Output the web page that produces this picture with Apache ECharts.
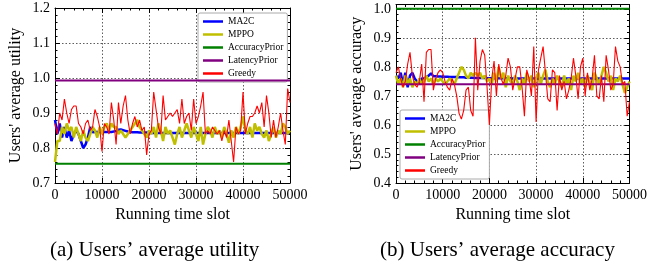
<!DOCTYPE html>
<html>
<head>
<meta charset="utf-8">
<title>Users' average utility / accuracy</title>
<script src="https://cdn.jsdelivr.net/npm/echarts@6/dist/echarts.min.js"></script>
<style>
  html, body { margin: 0; padding: 0; background: #fff; }
  #chart { width: 650px; height: 267px; }
</style>
</head>
<body>
<div id="chart"></div>
<script>
// sampling step of the running time slot axis
const slotStep = 500;
const slotTicks = [0, 10000, 20000, 30000, 40000, 50000];
const seriesNames = ['MA2C', 'MPPO', 'AccuracyPrior', 'LatencyPrior', 'Greedy'];
const seriesColors = ['#0000ff', '#bfbf00', '#008000', '#800080', '#ff0000'];
const seriesWidths = [2.5, 2.5, 2, 2, 1.1];

// (a) users' average utility
const utilMA2C = [
  0.88, 0.84, 0.87, 0.83, 0.86, 0.83, 0.85, 0.82, 0.84, 0.85,
  0.84, 0.82, 0.80, 0.81, 0.83, 0.86, 0.845, 0.846, 0.846, 0.846,
  0.846, 0.846, 0.846, 0.846, 0.846, 0.847, 0.849, 0.852, 0.853, 0.851,
  0.849, 0.847, 0.846, 0.845, 0.845, 0.845, 0.844, 0.844, 0.844, 0.844,
  0.843, 0.843, 0.843, 0.843, 0.843, 0.843, 0.843, 0.843, 0.843, 0.843,
  0.843, 0.843, 0.843, 0.843, 0.843, 0.843, 0.843, 0.843, 0.843, 0.843,
  0.843, 0.843, 0.843, 0.843, 0.843, 0.843, 0.843, 0.843, 0.843, 0.843,
  0.843, 0.843, 0.843, 0.843, 0.843, 0.843, 0.843, 0.843, 0.843, 0.843,
  0.843, 0.843, 0.843, 0.843, 0.843, 0.843, 0.843, 0.843, 0.843, 0.843,
  0.843, 0.843, 0.843, 0.843, 0.843, 0.843, 0.843, 0.843, 0.843, 0.843,
  0.843
];
const utilMPPO = [
  0.76, 0.82, 0.82, 0.86, 0.84, 0.87, 0.85, 0.86, 0.83, 0.86,
  0.84, 0.82, 0.85, 0.83, 0.82, 0.84, 0.86, 0.85, 0.83, 0.86,
  0.84, 0.86, 0.87, 0.85, 0.87, 0.86, 0.86, 0.84, 0.85, 0.84,
  0.83, 0.84, 0.85, 0.86, 0.87, 0.88, 0.86, 0.85, 0.84, 0.83,
  0.85, 0.84, 0.86, 0.83, 0.87, 0.85, 0.82, 0.86, 0.84, 0.85,
  0.83, 0.81, 0.84, 0.86, 0.83, 0.85, 0.87, 0.85, 0.83, 0.86,
  0.84, 0.82, 0.86, 0.81, 0.84, 0.86, 0.85, 0.83, 0.86, 0.84,
  0.85, 0.83, 0.86, 0.84, 0.815, 0.85, 0.83, 0.86, 0.84, 0.86,
  0.89, 0.85, 0.84, 0.86, 0.83, 0.87, 0.85, 0.86, 0.84, 0.83,
  0.85, 0.82, 0.84, 0.86, 0.83, 0.85, 0.84, 0.87, 0.86, 0.84,
  0.85
];
const utilAccuracyPrior = 0.755;
const utilLatencyPrior = 0.993;
const utilGreedy = [
  0.87, 0.84, 0.90, 0.88, 0.94, 0.90, 0.87, 0.91, 0.92, 0.92,
  0.87, 0.86, 0.84, 0.87, 0.88, 0.85, 0.86, 0.91, 0.89, 0.86,
  0.79, 0.87, 0.86, 0.84, 0.93, 0.88, 0.81, 0.93, 0.87, 0.92,
  0.95, 0.88, 0.84, 0.87, 0.89, 0.86, 0.88, 0.85, 0.86, 0.78,
  0.84, 0.85, 0.96, 0.91, 0.86, 0.84, 0.95, 0.88, 0.89, 0.90,
  0.89, 0.90, 0.91, 0.87, 0.94, 0.87, 0.89, 0.90, 0.85, 0.94,
  0.87, 0.89, 0.92, 0.96, 0.84, 0.85, 0.84, 0.86, 0.85, 0.84,
  0.85, 0.82, 0.85, 0.83, 0.88, 0.82, 0.76, 0.86, 0.84, 0.85,
  0.96, 0.84, 0.87, 0.89, 0.89, 0.90, 0.92, 0.90, 0.93, 0.86,
  0.95, 0.90, 0.83, 0.88, 0.83, 0.86, 0.90, 0.85, 0.81, 0.97,
  0.93
];

// (b) users' average accuracy
const accMA2C = [
  0.77, 0.76, 0.78, 0.74, 0.78, 0.73, 0.77, 0.78, 0.76, 0.75,
  0.74, 0.76, 0.76, 0.765, 0.77, 0.778, 0.768, 0.768, 0.767, 0.767,
  0.766, 0.766, 0.766, 0.765, 0.765, 0.765, 0.765, 0.764, 0.764, 0.764,
  0.763, 0.763, 0.763, 0.763, 0.762, 0.762, 0.762, 0.762, 0.762, 0.761,
  0.761, 0.761, 0.761, 0.761, 0.761, 0.761, 0.761, 0.761, 0.761, 0.761,
  0.76, 0.76, 0.76, 0.76, 0.76, 0.76, 0.76, 0.76, 0.76, 0.76,
  0.76, 0.76, 0.76, 0.76, 0.76, 0.76, 0.76, 0.76, 0.76, 0.76,
  0.76, 0.76, 0.76, 0.76, 0.76, 0.76, 0.76, 0.76, 0.76, 0.76,
  0.76, 0.76, 0.76, 0.76, 0.76, 0.76, 0.76, 0.76, 0.76, 0.76,
  0.76, 0.76, 0.76, 0.76, 0.76, 0.76, 0.76, 0.76, 0.76, 0.76,
  0.76
];
const accMPPO = [
  0.77, 0.74, 0.76, 0.73, 0.77, 0.74, 0.76, 0.73, 0.75, 0.74,
  0.76, 0.74, 0.75, 0.77, 0.75, 0.76, 0.74, 0.76, 0.75, 0.76,
  0.75, 0.74, 0.75, 0.76, 0.75, 0.74, 0.76, 0.78, 0.80, 0.79,
  0.77, 0.76, 0.78, 0.77, 0.78, 0.77, 0.78, 0.76, 0.77, 0.75,
  0.76, 0.74, 0.78, 0.75, 0.80, 0.76, 0.78, 0.73, 0.77, 0.75,
  0.74, 0.77, 0.75, 0.72, 0.76, 0.74, 0.78, 0.75, 0.77, 0.73,
  0.76, 0.78, 0.74, 0.77, 0.79, 0.75, 0.73, 0.76, 0.74, 0.77,
  0.75, 0.73, 0.77, 0.74, 0.76, 0.72, 0.77, 0.75, 0.78, 0.74,
  0.76, 0.73, 0.77, 0.75, 0.72, 0.78, 0.76, 0.74, 0.77, 0.80,
  0.78, 0.75, 0.77, 0.72, 0.76, 0.75, 0.77, 0.74, 0.71, 0.73,
  0.75
];
const accAccuracyPrior = 1.0;
const accLatencyPrior = 0.74;
const accGreedy = [
  0.78, 0.80, 0.76, 0.73, 0.75, 0.81, 0.85, 0.77, 0.74, 0.73,
  0.75, 0.81, 0.68, 0.85, 0.86, 0.86, 0.72, 0.76, 0.78, 0.79,
  0.78, 0.75, 0.73, 0.72, 0.76, 0.74, 0.70, 0.64, 0.62, 0.65,
  0.72, 0.73, 0.65, 0.63, 0.90, 0.72, 0.82, 0.86, 0.84, 0.73,
  0.60, 0.76, 0.82, 0.70, 0.81, 0.76, 0.74, 0.77, 0.83, 0.80,
  0.72, 0.76, 0.80, 0.80, 0.73, 0.63, 0.79, 0.76, 0.70, 0.87,
  0.61, 0.79, 0.83, 0.87, 0.78, 0.69, 0.68, 0.79, 0.78, 0.65,
  0.77, 0.72, 0.75, 0.69, 0.72, 0.76, 0.83, 0.77, 0.69, 0.80,
  0.83, 0.70, 0.78, 0.72, 0.76, 0.84, 0.70, 0.69, 0.77, 0.68,
  0.84, 0.79, 0.72, 0.74, 0.87, 0.82, 0.80, 0.74, 0.75, 0.63,
  0.68
];

const serif = 'Liberation Serif';
const slotMin = slotTicks[0];
const slotMax = slotTicks[slotTicks.length - 1];

function toPoints(values) {
  return values.map((v, i) => [slotMin + i * slotStep, v]);
}
function flatLine(v) {
  return [[slotMin, v], [slotMax, v]];
}

function xAxis(grid, main) {
  return {
    type: 'value', gridIndex: grid, position: main ? 'bottom' : 'top',
    min: slotMin, max: slotMax, interval: slotTicks[1] - slotTicks[0],
    name: main ? 'Running time slot' : '', nameLocation: 'middle', nameGap: 21,
    nameTextStyle: { fontFamily: serif, fontSize: 16, color: '#000' },
    axisLine: { show: true, onZero: false, lineStyle: { color: '#000', width: 1 } },
    axisTick: { show: true, inside: true, length: 5, lineStyle: { color: '#000' } },
    minorTick: { show: true, splitNumber: 5, length: 2.5, lineStyle: { color: '#000' } },
    axisLabel: {
      show: main, margin: 5, fontFamily: serif, fontSize: 14, color: '#000',
      formatter: v => String(v)
    },
    splitLine: { show: main, lineStyle: { type: [1.5, 2], color: '#333', width: 0.8 } }
  };
}
function yAxis(grid, main, min, max, title) {
  return {
    type: 'value', gridIndex: grid, position: main ? 'left' : 'right',
    min: min, max: max, interval: 0.1,
    name: main ? title : '', nameLocation: 'middle', nameGap: 31,
    nameTextStyle: { fontFamily: serif, fontSize: 16, color: '#000' },
    axisLine: { show: true, onZero: false, lineStyle: { color: '#000', width: 1 } },
    axisTick: { show: true, inside: true, length: 5, lineStyle: { color: '#000' } },
    minorTick: { show: true, splitNumber: 5, length: 2.5, lineStyle: { color: '#000' } },
    axisLabel: {
      show: main, margin: 5, fontFamily: serif, fontSize: 14, color: '#000',
      showMaxLabel: max === 1.2,
      formatter: v => v.toFixed(1)
    },
    splitLine: { show: main, lineStyle: { type: [1.5, 2], color: '#333', width: 0.8 } }
  };
}

function buildSeries(grid, data) {
  return data.map((d, i) => ({
    name: seriesNames[i], type: 'line',
    xAxisIndex: grid * 2, yAxisIndex: grid * 2,
    data: d, symbol: 'none', smooth: false, animation: false,
    lineStyle: { color: seriesColors[i], width: seriesWidths[i] },
    itemStyle: { color: seriesColors[i] },
    z: 2 + i
  }));
}

function legend(left, top) {
  return {
    orient: 'vertical', left: left, top: top,
    data: seriesNames.map((n, i) => ({
      name: n, icon: 'rect',
      itemStyle: { color: seriesColors[i] }
    })),
    itemWidth: 20, itemHeight: 2.5, itemGap: 2,
    padding: [3, 4, 3, 5],
    backgroundColor: '#fff', borderColor: '#aaa', borderWidth: 1, borderRadius: 2,
    textStyle: { fontFamily: serif, fontSize: 9.5, color: '#000', lineHeight: 11 }
  };
}

const chart = echarts.init(document.getElementById('chart'), null, { renderer: 'canvas' });
chart.setOption({
  animation: false,
  backgroundColor: '#fff',
  grid: [
    { left: 55, top: 8, width: 235, height: 175 },
    { left: 396, top: 4.5, width: 236, height: 178.5 }
  ],
  xAxis: [xAxis(0, true), xAxis(0, false), xAxis(1, true), xAxis(1, false)],
  yAxis: [
    yAxis(0, true, 0.7, 1.2, "Users' average utility"),
    yAxis(0, false, 0.7, 1.2, ''),
    yAxis(1, true, 0.4, 1.015, "Users' average accuracy"),
    yAxis(1, false, 0.4, 1.015, '')
  ],
  legend: [legend(198, 13), legend(400, 110)],
  series: buildSeries(0, [
    toPoints(utilMA2C), toPoints(utilMPPO), flatLine(utilAccuracyPrior),
    flatLine(utilLatencyPrior), toPoints(utilGreedy)
  ]).concat(buildSeries(1, [
    toPoints(accMA2C), toPoints(accMPPO), flatLine(accAccuracyPrior),
    flatLine(accLatencyPrior), toPoints(accGreedy)
  ])),
  graphic: [
    { type: 'text', left: 50, top: 240,
      style: { text: '(a) Users\u2019 average utility', font: '21px "Liberation Serif"', fill: '#000' } },
    { type: 'text', left: 380, top: 240,
      style: { text: '(b) Users\u2019 average accuracy', font: '21px "Liberation Serif"', fill: '#000' } }
  ]
});
</script>
</body>
</html>
